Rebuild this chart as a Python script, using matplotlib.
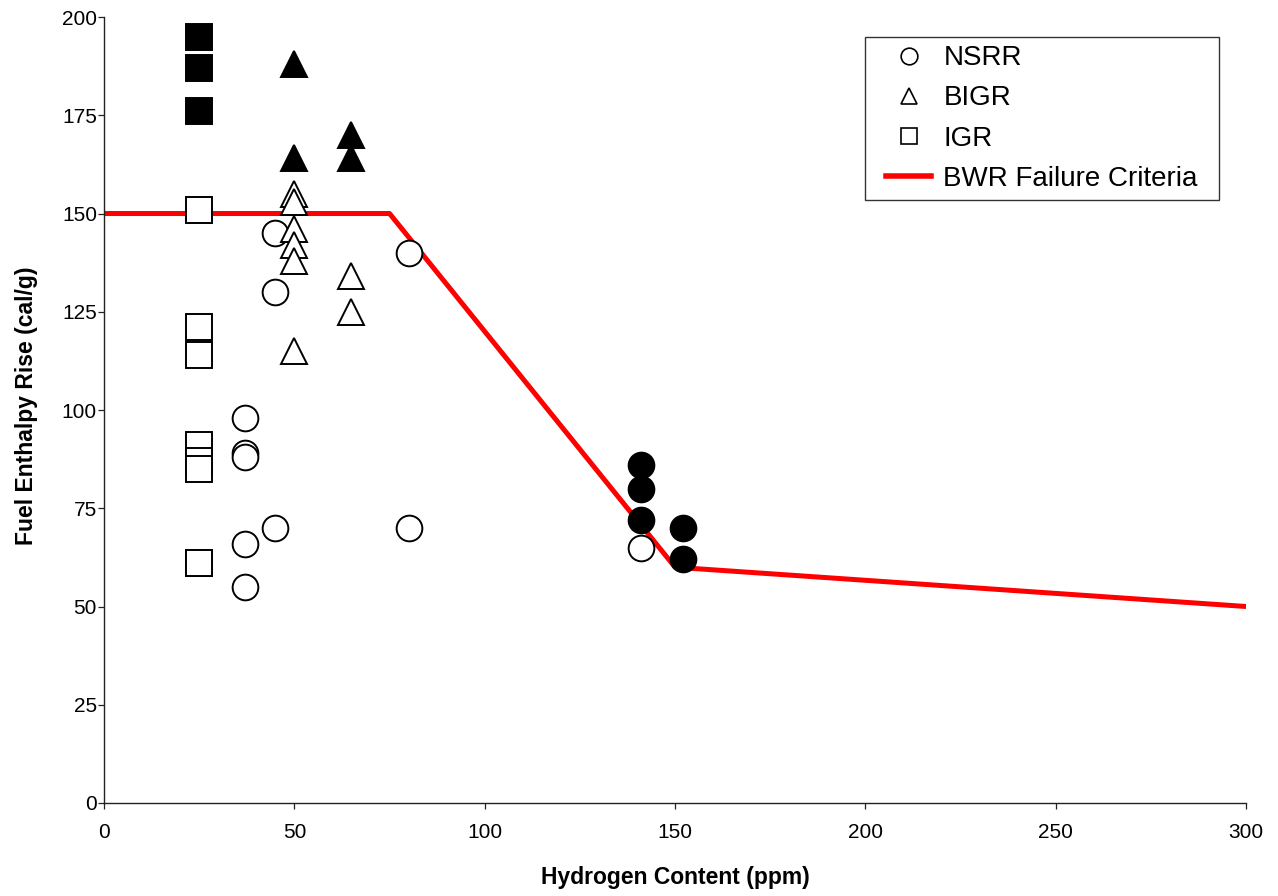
import numpy as np
import matplotlib
matplotlib.use("Agg")
import matplotlib.pyplot as plt
from matplotlib.lines import Line2D
from matplotlib.path import Path

plt.rcParams['font.family'] = ['Liberation Sans', 'DejaVu Sans']

# NSRR tests (open = no failure, filled = failure)
nsrr_h = [37, 37, 37, 37, 37, 45, 45, 45, 80, 80, 141]
nsrr_e = [98, 89, 88, 66, 55, 145, 130, 70, 140, 70, 65]
nsrr_fail_h = [141, 141, 141, 152, 152]
nsrr_fail_e = [86, 80, 72, 70, 62]

# BIGR tests
bigr_h = [50, 50, 50, 50, 50, 50, 65, 65]
bigr_e = [155, 153, 146, 142, 138, 115, 134, 125]
bigr_fail_h = [50, 50, 65, 65]
bigr_fail_e = [188, 164, 170, 164]

# IGR tests
igr_h = [25, 25, 25, 25, 25, 25, 25, 25]
igr_e = [151, 121, 114, 91, 87, 85, 61, 61]
igr_fail_h = [25, 25, 25]
igr_fail_e = [195, 187, 176]

# BWR failure threshold
crit_h = [0, 75, 150, 300]
crit_e = [150, 150, 60, 50]

fig = plt.figure(figsize=(12.78, 8.96), dpi=100)
ax = fig.add_axes([0.0814, 0.1038, 0.8936, 0.8772])

ms = 18.5
mew = 1.4
ax.plot(crit_h, crit_e, color='#ff0000', lw=3.6, zorder=2, solid_capstyle='butt')

ax.plot(nsrr_h, nsrr_e, 'o', ms=ms, mfc='white', mec='black', mew=mew, zorder=3)
ax.plot(bigr_h, bigr_e, '^', ms=ms, mfc='white', mec='black', mew=mew, zorder=3)
ax.plot(igr_h, igr_e, 's', ms=ms, mfc='white', mec='black', mew=mew, zorder=3)
ax.plot(nsrr_fail_h, nsrr_fail_e, 'o', ms=ms, mfc='black', mec='black', mew=mew, zorder=4)
ax.plot(bigr_fail_h, bigr_fail_e, '^', ms=ms, mfc='black', mec='black', mew=mew, zorder=4)
ax.plot(igr_fail_h, igr_fail_e, 's', ms=ms, mfc='black', mec='black', mew=mew, zorder=4)

ax.set_xlim(0, 300)
ax.set_ylim(0, 200)
ax.set_xticks(np.arange(0, 301, 50))
ax.set_yticks(np.arange(0, 201, 25))
ax.spines['top'].set_visible(False)
ax.spines['right'].set_visible(False)
for side in ('left', 'bottom'):
    ax.spines[side].set_linewidth(1.0)
    ax.spines[side].set_color('#222222')
ax.tick_params(direction='out', length=4.3, width=0.9, labelsize=15, color='#222222')
ax.tick_params(axis='x', pad=10)
ax.tick_params(axis='y', pad=0.8)
ax.set_xlabel('Hydrogen Content (ppm)', fontsize=16.5, fontweight='bold')
ax.set_ylabel('Fuel Enthalpy Rise (cal/g)', fontsize=16.5, fontweight='bold')
ax.xaxis.set_label_coords(0.5, -0.080)
ax.yaxis.set_label_coords(-0.0575, 0.505)

handles = [
    Line2D([], [], ls='none', marker='o', ms=12, mfc='white', mec='black', mew=1.2),
    Line2D([], [], ls='none', marker='^', ms=12, mfc='white', mec='black', mew=1.2),
    Line2D([], [], ls='none', marker='s', ms=12, mfc='white', mec='black', mew=1.2),
    Line2D([], [], color='#ff0000', lw=4),
]
labels = ['NSRR', 'BIGR', 'IGR', 'BWR Failure Criteria']
leg = ax.legend(handles, labels, loc='upper right', bbox_to_anchor=(0.965, 0.9746),
                borderaxespad=0, fontsize=20, frameon=True, fancybox=False,
                edgecolor='black', borderpad=0.3, labelspacing=0.51,
                handlelength=1.62, handletextpad=0.43)
leg.get_frame().set_linewidth(1.0)


# legend frame with extra room left and right only
def wide_box(x0, y0, width, height, mutation_size):
    dx = 0.47 * mutation_size
    x0 -= dx
    x1 = x0 + width + 2 * dx
    y1 = y0 + height
    return Path([(x0, y0), (x1, y0), (x1, y1), (x0, y1), (x0, y0)], closed=True)


leg.get_frame().set_boxstyle(wide_box)

fig.savefig('out.png', dpi=100)
